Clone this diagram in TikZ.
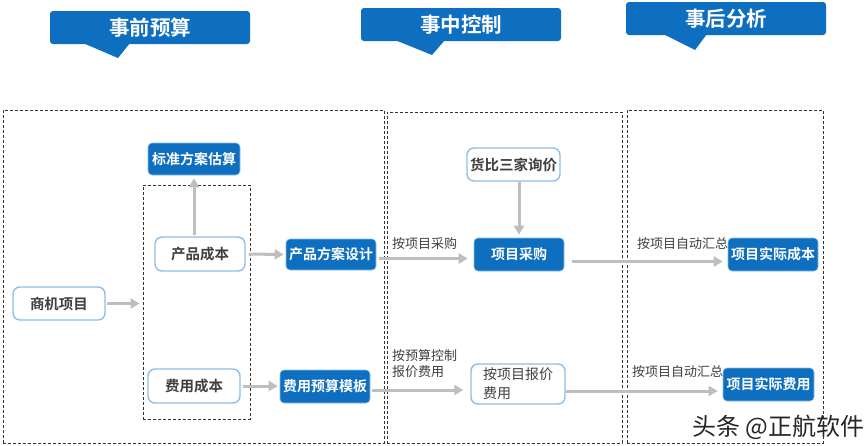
\documentclass[tikz,border=0pt]{standalone}
\usepackage{fontspec}
\setmainfont{Noto Sans CJK SC}
\newfontfamily\cjkb{Noto Sans CJK SC Bold}
\usetikzlibrary{arrows.meta,calc}
\definecolor{mblue}{HTML}{0E6EC0}
\definecolor{lblue}{HTML}{8CC0EA}
\definecolor{agray}{HTML}{BEBEBE}
\definecolor{tgray}{HTML}{404040}
\tikzset{
  x=1pt,y=-1pt,
  hdr/.style={fill=mblue,rounded corners=3pt,minimum width=200pt,minimum height=33pt,text=white,font=\cjkb\fontsize{20.5}{20.5}\selectfont,inner sep=0pt},
  bbox/.style={fill=mblue,draw=lblue,line width=0.6pt,rounded corners=4pt,text=white,font=\cjkb\fontsize{14}{14}\selectfont,minimum height=32pt,minimum width=90pt,inner sep=0pt},
  wbox/.style={fill=white,draw=lblue,line width=1.4pt,rounded corners=7pt,text=tgray,font=\cjkb\fontsize{14.5}{14.5}\selectfont,minimum height=33pt,minimum width=91pt,inner sep=0pt},
  dbox/.style={draw=black!80,line width=0.8pt,dash pattern=on 3pt off 2pt,inner sep=0pt},
  garrow/.style={draw=agray,line width=3pt,-{Triangle[length=9pt,width=10pt]}},
  lbl/.style={text=tgray,font=\fontsize{13}{16}\selectfont,inner sep=0pt},
}
\begin{document}
\begin{tikzpicture}
\useasboundingbox[fill=white] (0,0) rectangle (865,445);
% headers
\node[hdr] (h1) at (150,27.5) {事前预算};
\fill[mblue] (83,43) -- (118,58) -- (130,43) -- cycle;
\node[hdr] (h2) at (461,24.5) {事中控制};
\fill[mblue] (395,40) -- (432,55) -- (445,40) -- cycle;
\node[hdr] (h3) at (726,18.5) {事后分析};
\fill[mblue] (663,34) -- (695,50) -- (707,34) -- cycle;
% dashed frames
\node[dbox,minimum width=381pt,minimum height=333pt] (f1) at (193.5,276.5) {};
\node[dbox,minimum width=235pt,minimum height=331pt] (f2) at (504.5,277.5) {};
\node[dbox,minimum width=196pt,minimum height=333pt] (f3) at (725,276.5) {};
\node[dbox,minimum width=107pt,minimum height=234pt] (fin) at (196.5,302) {};
% nodes
\node[bbox,minimum width=92pt] (std) at (194,159) {标准方案估算};
\node[wbox,minimum width=90pt,minimum height=34pt] (cpcb) at (200,254) {产品成本};
\node[bbox,minimum height=31pt] (cpfa) at (331,254.5) {产品方案设计};
\node[wbox,minimum width=92pt] (sjxm) at (59,303.5) {商机项目};
\node[wbox,minimum width=92pt,minimum height=34pt] (fycb) at (194,386) {费用成本};
\node[bbox,minimum height=33pt] (fyys) at (325,386.5) {费用预算模板};
\node[wbox,minimum width=93pt] (hbsj) at (513.5,164.5) {货比三家询价};
\node[bbox,minimum height=33pt] (xmcg) at (519,254.5) {项目采购};
\node[bbox,minimum height=33pt] (xmcb) at (773,254.5) {项目实际成本};
\node[wbox,minimum width=94pt,minimum height=40pt,align=left,font=\fontsize{14}{19}\selectfont] (axbj) at (518,384) {按项目报价\\费用};
\node[bbox,minimum width=91pt,minimum height=33pt] (xmfy) at (768.5,384.5) {项目实际费用};
% arrow anchor points
\coordinate (a1) at ($(cpfa.east)+(0,4)$);
\coordinate (a2) at ($(xmcg.east)+(0,7)$);
\coordinate (a3) at ($(fyys.east)+(0,3.5)$);
\coordinate (a4) at ($(axbj.east)+(0,7)$);
% arrows
\draw[garrow,shorten <=1pt,shorten >=3pt] (cpcb.north -| std.south) -- (std.south);
\draw[garrow,shorten <=3pt,shorten >=2pt] (cpcb.east) -- (cpfa.west);
\draw[garrow,shorten <=1pt,shorten >=3pt] (sjxm.east) -- (sjxm.east -| fin.west);
\draw[garrow,shorten <=2pt,shorten >=2pt] (fycb.east) -- (fycb.east -| fyys.west);
\draw[garrow,shorten <=3pt,shorten >=6pt] (a1) -- (a1 -| xmcg.west);
\draw[garrow,shorten >=3pt] (hbsj.south -| xmcg.north) -- (xmcg.north);
\draw[garrow,shorten <=8pt,shorten >=5pt] (a2) -- (a2 -| xmcb.west);
\draw[garrow,shorten <=2pt,shorten >=7pt] (a3) -- (a3 -| axbj.west);
\draw[garrow,shorten >=5pt] (a4) -- (a4 -| xmfy.west);
% labels
\node[lbl,anchor=west] (l1) at (392,244) {按项目采购};
\node[lbl,anchor=west] (l2) at (637,244) {按项目自动汇总};
\node[lbl,anchor=west,align=left] (l3) at (392,364) {按预算控制\\报价费用};
\node[lbl,anchor=west] (l4) at (632,372) {按项目自动汇总};
% watermark
\node[anchor=west,text=black!85,font=\fontsize{24}{24}\selectfont,inner sep=0pt] (wm) at (692,427) {头条 @正航软件};
\end{tikzpicture}
\end{document}
